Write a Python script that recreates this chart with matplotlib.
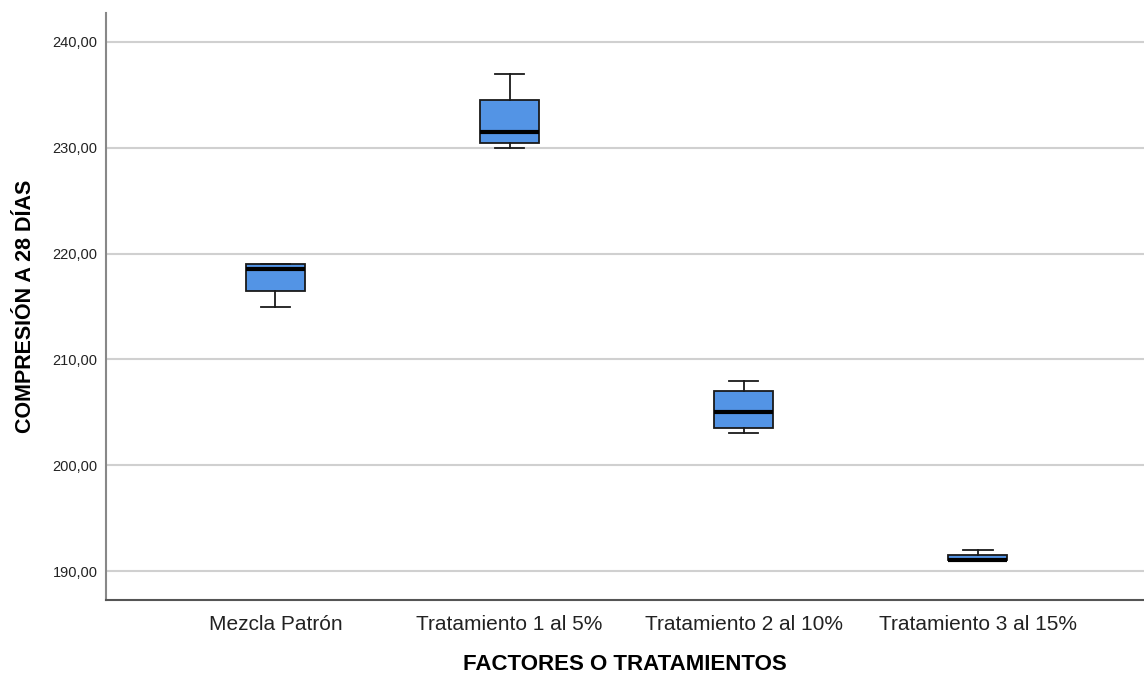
import matplotlib
matplotlib.use("Agg")
import matplotlib.pyplot as plt
from matplotlib.ticker import FuncFormatter

# Summary statistics of the compressive strength at 28 days per treatment
categories = ["Mezcla Patrón", "Tratamiento 1 al 5%", "Tratamiento 2 al 10%", "Tratamiento 3 al 15%"]
whislo = [215.0, 230.0, 203.0, 191.0]
q1 = [216.5, 230.5, 203.5, 191.0]
med = [218.5, 231.5, 205.0, 191.0]
q3 = [219.0, 234.5, 207.0, 191.5]
whishi = [219.0, 237.0, 208.0, 192.0]
yticks = [190, 200, 210, 220, 230, 240]

plt.rcParams["font.family"] = ["Liberation Sans", "DejaVu Sans"]

fig = plt.figure(figsize=(11.44, 6.76), dpi=100)
ax = fig.add_axes([106 / 1144, 1 - 600 / 676, 1 - 106 / 1144, (600 - 13) / 676])

stats = []
for i, name in enumerate(categories):
    stats.append(dict(label=name, whislo=whislo[i], q1=q1[i], med=med[i],
                      q3=q3[i], whishi=whishi[i], fliers=[]))

positions = list(range(len(categories)))
ax.set_axisbelow(True)
ax.yaxis.grid(True, color="#d0d0d0", linewidth=1.5)
ax.bxp(stats, positions=positions, widths=0.252, patch_artist=True,
       showfliers=False,
       boxprops=dict(facecolor="#5394e5", edgecolor="#1a1a1a", linewidth=1.3),
       medianprops=dict(color="#000000", linewidth=3),
       whiskerprops=dict(color="#1a1a1a", linewidth=1.3),
       capprops=dict(color="#1a1a1a", linewidth=1.3),
       capwidths=0.126)

ax.set_xlim(-0.724, 3.71)
ax.set_ylim(187.26, 242.74)
ax.set_yticks(yticks)
ax.yaxis.set_major_formatter(FuncFormatter(lambda v, p: f"{v:.2f}".replace(".", ",")))
ax.set_xticks(positions)
ax.set_xticklabels(categories, fontsize=15, color="#222222")
ax.tick_params(axis="y", length=0, labelsize=10.5, pad=6, labelcolor="#222222")
ax.tick_params(axis="x", length=0, pad=11)

for side in ("top", "right"):
    ax.spines[side].set_visible(False)
ax.spines["left"].set_color("#888888")
ax.spines["left"].set_linewidth(1.5)
ax.spines["bottom"].set_color("#555555")
ax.spines["bottom"].set_linewidth(1.5)

ax.set_xlabel("FACTORES O TRATAMIENTOS", fontsize=16, fontweight="bold", labelpad=14)
ax.set_ylabel("COMPRESIÓN A 28 DÍAS", fontsize=15.5, fontweight="bold", labelpad=12)

fig.savefig("out.png", dpi=100)
